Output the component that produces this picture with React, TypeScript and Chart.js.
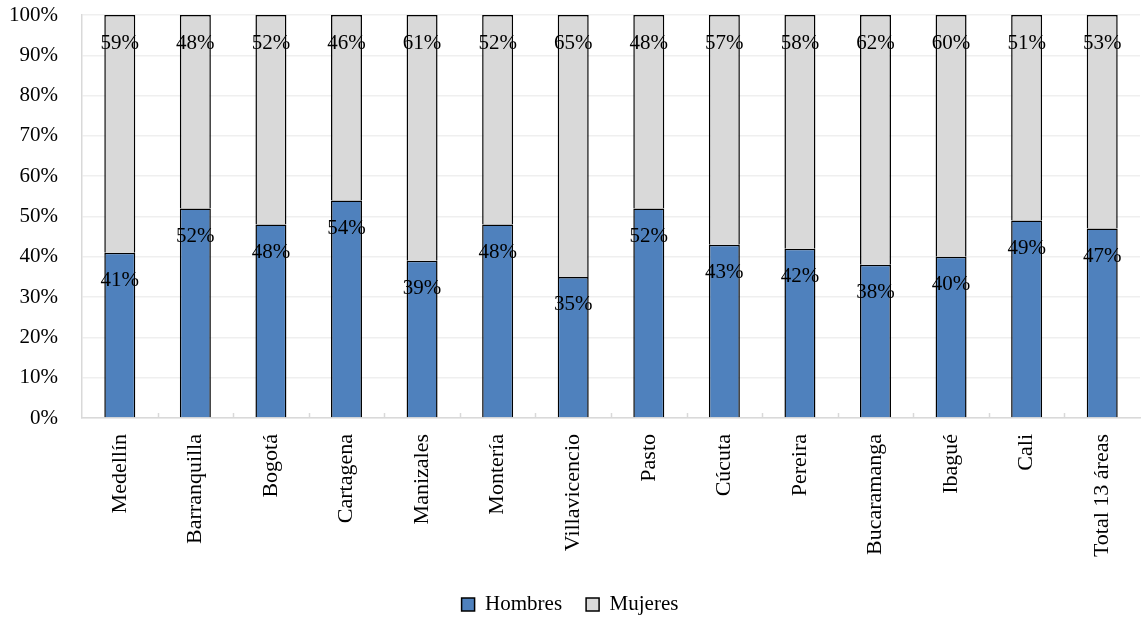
import React, { useEffect, useRef } from "react";
import { Chart, registerables } from "chart.js";

Chart.register(...registerables);

const categories = [
  "Medellín",
  "Barranquilla",
  "Bogotá",
  "Cartagena",
  "Manizales",
  "Montería",
  "Villavicencio",
  "Pasto",
  "Cúcuta",
  "Pereira",
  "Bucaramanga",
  "Ibagué",
  "Cali",
  "Total 13 áreas",
];

const hombres = [41, 52, 48, 54, 39, 48, 35, 52, 43, 42, 38, 40, 49, 47];
const mujeres = [59, 48, 52, 46, 61, 52, 65, 48, 57, 58, 62, 60, 51, 53];

const yMin = 0;
const yMax = 100;
const yStep = 10;

const FONT = "'Liberation Serif', 'Times New Roman', serif";
const FONT_SIZE = 21;
const AXIS_GREY = "#D9D9D9";

// Percent labels written inside each stacked segment, just below its top edge
const segmentLabels = {
  id: "segmentLabels",
  afterDatasetsDraw(chart: any) {
    const { ctx } = chart;
    ctx.save();
    ctx.font = `${FONT_SIZE}px ${FONT}`;
    ctx.fillStyle = "#000";
    ctx.textAlign = "center";
    ctx.textBaseline = "middle";
    chart.data.datasets.forEach((ds: any, di: number) => {
      const meta = chart.getDatasetMeta(di);
      meta.data.forEach((bar: any, i: number) => {
        ctx.fillText(`${ds.data[i]}%`, bar.x, bar.y + 28);
      });
    });
    ctx.restore();
  },
};

// Short tick marks rising from the category axis at each category boundary
const categoryTicks = {
  id: "categoryTicks",
  afterDatasetsDraw(chart: any) {
    const { ctx, chartArea } = chart;
    const n = chart.data.labels.length;
    const step = (chartArea.right - chartArea.left) / n;
    ctx.save();
    ctx.strokeStyle = AXIS_GREY;
    ctx.lineWidth = 1.5;
    for (let i = 1; i < n; i++) {
      const x = Math.round(chartArea.left + i * step) + 0.5;
      ctx.beginPath();
      ctx.moveTo(x, chartArea.bottom);
      ctx.lineTo(x, chartArea.bottom - 5);
      ctx.stroke();
    }
    ctx.restore();
  },
};

export default function App() {
  const canvasRef = useRef<HTMLCanvasElement | null>(null);

  useEffect(() => {
    document.body.style.margin = "0";
    const canvas = canvasRef.current;
    if (!canvas) return;
    const chart = new Chart(canvas, {
      type: "bar",
      data: {
        labels: categories,
        datasets: [
          {
            label: "Hombres",
            data: hombres,
            backgroundColor: "#4F81BD",
            borderColor: "#000000",
            borderWidth: 1.5,
            categoryPercentage: 1,
            barPercentage: 0.41,
          },
          {
            label: "Mujeres",
            data: mujeres,
            backgroundColor: "#D9D9D9",
            borderColor: "#000000",
            borderWidth: 1.5,
            categoryPercentage: 1,
            barPercentage: 0.41,
          },
        ],
      },
      options: {
        animation: false,
        responsive: false,
        maintainAspectRatio: false,
        layout: { padding: { top: 15, right: 3, left: 0, bottom: -4 } },
        plugins: {
          tooltip: { enabled: false },
          legend: {
            position: "bottom",
            labels: {
              font: { family: FONT, size: FONT_SIZE },
              color: "#000",
              boxWidth: 13,
              boxHeight: 13,
              padding: 24,
            },
          },
        },
        scales: {
          x: {
            stacked: true,
            grid: { display: false },
            border: { color: AXIS_GREY, width: 1.5 },
            ticks: {
              font: { family: FONT, size: 22 },
              color: "#000",
              maxRotation: 90,
              minRotation: 90,
              padding: 8,
              autoSkip: false,
            },
            afterFit(scale: any) {
              scale.height = 152;
            },
          },
          y: {
            stacked: true,
            min: yMin,
            max: yMax,
            ticks: {
              stepSize: yStep,
              font: { family: FONT, size: FONT_SIZE },
              color: "#000",
              padding: 0,
              callback: (v: any) => `${v}%`,
            },
            grid: {
              color: "#EFEFEF",
              lineWidth: 1.5,
              drawTicks: true,
              tickLength: 24,
              tickColor: "rgba(0,0,0,0)",
            },
            border: { color: AXIS_GREY, width: 1.5 },
            afterFit(scale: any) {
              scale.width = 82;
            },
          },
        },
      },
      plugins: [segmentLabels, categoryTicks],
    });
    return () => chart.destroy();
  }, []);

  return (
    <div style={{ width: 1143, height: 621, background: "#fff" }}>
      <canvas ref={canvasRef} width={1143} height={621} />
    </div>
  );
}
